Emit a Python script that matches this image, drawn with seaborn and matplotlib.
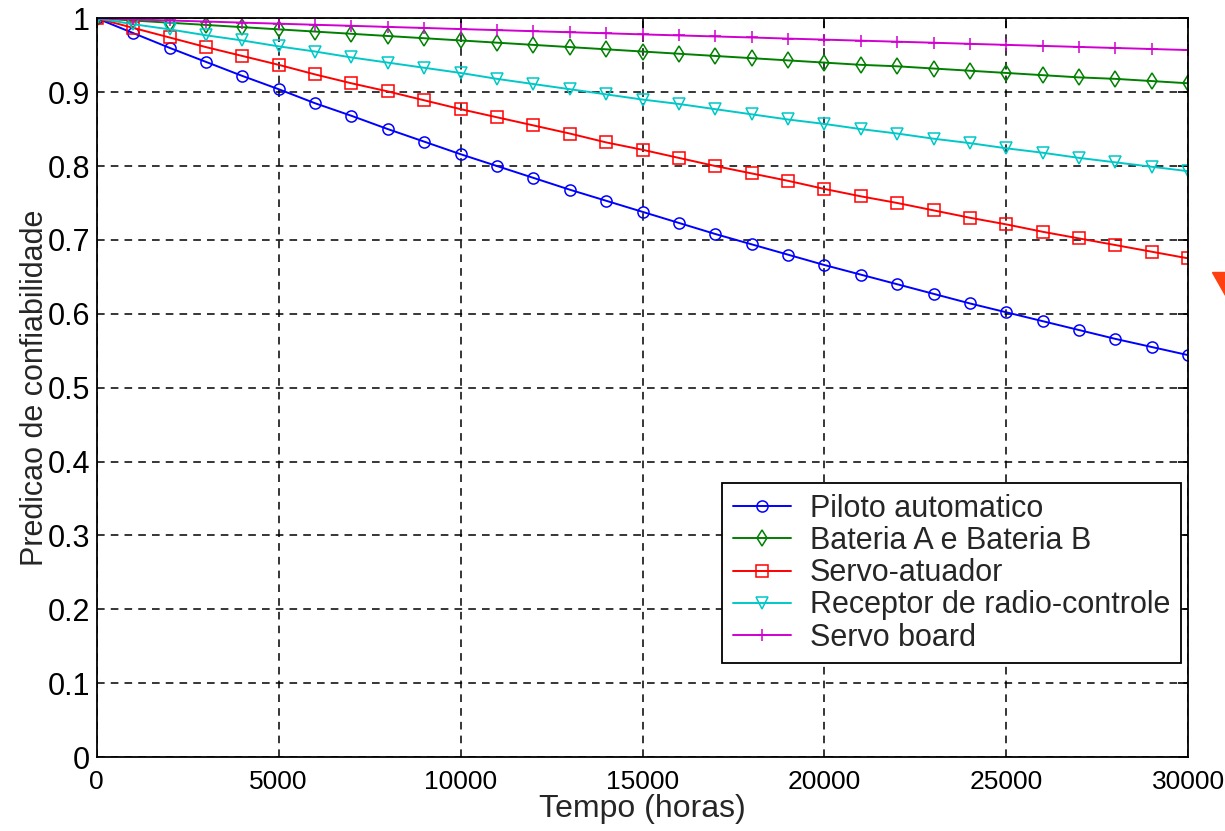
import numpy as np
import pandas as pd
import matplotlib
matplotlib.use("Agg")
import matplotlib.pyplot as plt
from matplotlib.patches import Polygon
import seaborn as sns

# Time axis (hours), one marker every 1000 h
tempo = [0, 1000, 2000, 3000, 4000, 5000, 6000, 7000, 8000, 9000, 10000,
         11000, 12000, 13000, 14000, 15000, 16000, 17000, 18000, 19000, 20000,
         21000, 22000, 23000, 24000, 25000, 26000, 27000, 28000, 29000, 30000]

piloto = [1.000, 0.980, 0.960, 0.941, 0.922, 0.904, 0.885, 0.868, 0.850, 0.833, 0.816,
          0.800, 0.784, 0.768, 0.753, 0.738, 0.723, 0.708, 0.694, 0.680, 0.666,
          0.653, 0.640, 0.627, 0.614, 0.602, 0.590, 0.578, 0.566, 0.555, 0.544]
bateria = [1.000, 0.997, 0.994, 0.991, 0.988, 0.985, 0.982, 0.979, 0.976, 0.973, 0.970,
           0.967, 0.964, 0.961, 0.958, 0.955, 0.952, 0.949, 0.946, 0.943, 0.940,
           0.937, 0.935, 0.932, 0.929, 0.926, 0.923, 0.920, 0.918, 0.915, 0.912]
servo_atuador = [1.000, 0.987, 0.974, 0.961, 0.949, 0.937, 0.924, 0.912, 0.901, 0.889, 0.877,
                 0.866, 0.855, 0.844, 0.832, 0.822, 0.811, 0.800, 0.790, 0.780, 0.769,
                 0.759, 0.750, 0.740, 0.730, 0.721, 0.711, 0.702, 0.693, 0.684, 0.675]
receptor = [1.000, 0.992, 0.985, 0.977, 0.970, 0.962, 0.955, 0.947, 0.940, 0.933, 0.926,
            0.918, 0.911, 0.904, 0.897, 0.890, 0.884, 0.877, 0.870, 0.863, 0.857,
            0.850, 0.844, 0.837, 0.831, 0.824, 0.818, 0.811, 0.805, 0.799, 0.793]
servo_board = [1.000, 0.9985, 0.997, 0.9956, 0.9941, 0.9927, 0.9912, 0.9898, 0.9883, 0.9869, 0.9854,
               0.9840, 0.9825, 0.9811, 0.9797, 0.9782, 0.9768, 0.9754, 0.9740, 0.9725, 0.9711,
               0.9697, 0.9683, 0.9669, 0.9654, 0.9640, 0.9626, 0.9612, 0.9598, 0.9584, 0.9570]

labels = ["Piloto automatico", "Bateria A e Bateria B", "Servo-atuador",
          "Receptor de radio-controle", "Servo board"]
series = [piloto, bateria, servo_atuador, receptor, servo_board]
colors = ["#0000ff", "#008000", "#ff0000", "#00c8c8", "#d000d0"]
markers = ["o", "d", "s", "v", "+"]

sns.set_style("white")
plt.rcParams["font.family"] = ["Liberation Sans", "DejaVu Sans"]
plt.rcParams["font.size"] = 22

fig = plt.figure(figsize=(12.25, 8.31), dpi=100)
ax = fig.add_axes([0.079, 0.089, 0.891, 0.889])

for lab, vals, col, mk in zip(labels, series, colors, markers):
    df = pd.DataFrame({"tempo": tempo, "r": vals})
    sns.lineplot(data=df, x="tempo", y="r", ax=ax, color=col, label=lab,
                 marker=mk, markersize=8, markerfacecolor="none",
                 markeredgecolor=col, markeredgewidth=1.1, linewidth=1.4)

ax.set_xlim(0, 30000)
ax.set_ylim(0, 1)
ax.set_xticks([0, 5000, 10000, 15000, 20000, 25000, 30000])
ax.set_yticks(np.arange(0, 1.01, 0.1))
ax.set_yticklabels(["0", "0.1", "0.2", "0.3", "0.4", "0.5", "0.6", "0.7", "0.8", "0.9", "1"])
ax.grid(True, color="black", linestyle=(0, (5, 4)), linewidth=1.1)
for s in ax.spines.values():
    s.set_visible(True)
    s.set_color("black")
    s.set_linewidth(1.3)
ax.tick_params(direction="in", length=7, width=1.2, top=True, right=True,
               labelsize=22, colors="black")
ax.tick_params(axis="x", pad=9, labelsize=19)
ax.tick_params(axis="y", pad=5)
ax.set_xlabel("Tempo (horas)", fontsize=23, labelpad=0)
ax.set_ylabel("Predicao de confiabilidade", fontsize=22, labelpad=-2)

leg = ax.legend(loc="lower right", bbox_to_anchor=(0.993, 0.127), fontsize=22,
                frameon=True, fancybox=False, framealpha=1, edgecolor="black",
                labelspacing=0.07, handlelength=1.9, handletextpad=0.6,
                borderpad=0.35, borderaxespad=0)
leg.get_frame().set_linewidth(1.3)

# small orange mark at the right edge of the picture
fig.patches.append(Polygon([[1212 / 1225, 1 - 272 / 831], [1.0, 1 - 272 / 831],
                            [1.0, 1 - 295 / 831]], closed=True,
                           transform=fig.transFigure, color="#ff4010"))

fig.savefig("out.png", dpi=100)
